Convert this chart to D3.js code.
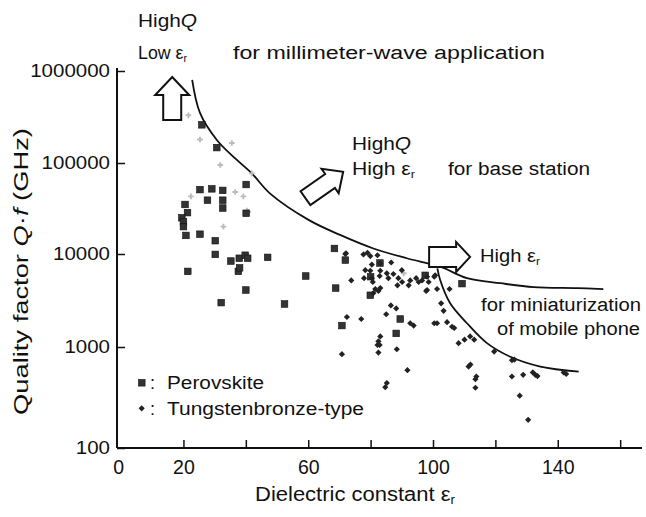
<!DOCTYPE html>
<html><head><meta charset="utf-8">
<script src="https://cdn.jsdelivr.net/npm/d3@7"></script>
<style>
body{margin:0;background:#fff}
text{font-family:"Liberation Sans",Arial,Helvetica,sans-serif;fill:#111}
</style>
</head><body>
<svg id="chart" width="646" height="517"></svg>
<script>
// ---- data (dielectric constant εr, Q·f in GHz) ----
const perovskite = [
 [25.9,260000],[30.7,147000],[40.1,58000],[25.3,51000],[29.1,52000],[32.6,50000],
 [27.7,39000],[32.6,39000],[32.6,32000],[40.1,28000],[20.5,35000],[21.3,28500],
 [19.5,25000],[20,22500],[20,20000],[20.8,16000],[25.3,16500],[30.2,14000],
 [30.2,9900],[35.2,8400],[37.9,9000],[39.8,9700],[40.6,9000],[47,9200],
 [37.6,6500],[38,7100],[21.4,6500],[40,4100],[32.1,3000],[52.4,2900],
 [68.4,11500],[71.9,8600],[59.2,5800],[68.8,4300],[79.9,3600],[89.5,2000],
 [70.8,1700],[88.2,1400],[97.5,5900],[109.3,4800],[83,8000],[80,5700]
];
const tungstenbronze = [
 [71.9,10000],[77.7,9900],[79,10300],[79.9,9500],[82.2,9700],[80.4,7700],
 [83.1,7900],[86.6,8100],[78.3,6700],[79.9,6600],[83.1,6600],[77.9,5500],
 [80.4,5500],[80.7,5000],[82.9,5800],[85.2,6200],[85.7,5500],[87.3,6100],
 [88.9,5500],[88.6,4600],[90.1,5000],[92.2,4600],[92.7,5200],[94.6,5500],
 [95.4,5000],[96.5,5200],[98.1,5700],[98.6,5000],[100.4,5700],[97.8,4000],
 [101.3,4200],[105.3,4200],[73.8,5200],[81.5,4200],[82.5,4000],[83.1,4300],
 [80.9,3800],[86.5,2800],[88.2,2600],[102.6,2950],[103.4,2450],[85,2250],
 [72.4,2100],[77,2000],[92.7,1800],[93.8,1700],[100.4,1800],[101.3,1800],
 [104.5,1850],[106.1,1650],[106.8,1600],[83.1,1300],[82.5,1150],[82.2,1050],
 [82.9,1050],[88.4,950],[70.8,850],[82.5,880],[98.1,4100],[108.2,1100],
 [110.1,1200],[111.9,1300],[113.2,1200],[119.6,900],[125.3,740],[126.1,750],
 [111.4,640],[112,670],[113.9,510],[113.6,480],[113.6,395],[91.8,590],
 [125.3,510],[128.9,530],[132,560],[132.8,530],[133.5,515],[141.9,560],
 [142.7,540],[127.8,330],[130.5,190],[85.2,440],[84.7,400],[100.7,5900],
 [72.1,10200],[90,6700]
];
const faintPoints = [
 [21.6,330000],[25.3,180000],[35.5,165000],[31.8,95000],[41.9,77000],[36.6,48000],
 [39.2,43000],[22.4,43000],[40.3,30000],[32.8,20000],[40.8,29000],[90.6,6200]
];
const boundaryHighQ = [
 [22.8,800000],[25.3,350000],[30.7,178000],[36.6,112000],[41.9,77000],[47.8,46000],
 [60.1,23700],[70.2,16200],[80.9,11500],[91.6,9000],[102.3,7300],[110.9,5500],
 [121.6,4850],[132.3,4400],[146.2,4300],[154.6,4200]
];
const boundaryMobile = [
 [101.4,7000],[102.3,5250],[105.5,2950],[110.9,1800],[117.3,1100],[124.8,800],
 [134.4,640],[146.7,570]
];
const xTickValues = [0,20,40,60,80,100,120,140,160];
const xTickLabels = [0,20,60,100,140];
const yTickValues = [100,1000,10000,100000,1000000];
const legendLabels = ["Perovskite","Tungstenbronze-type"];

// ---- scales ----
const x = d3.scaleLinear().domain([-1.3,167]).range([117,642]);
const y = d3.scaleLog().domain([100,1000,10000,100000,1000000]).range([448,347,254,163,71]);

const svg = d3.select("#chart");

// axes
const yAxis = d3.axisLeft(y).tickValues(yTickValues).tickSize(-8).tickSizeOuter(0)
  .tickPadding(7).tickFormat(d3.format("d"));
const gy = svg.append("g").attr("transform",`translate(${x(-1.3)},0)`).call(yAxis);
gy.selectAll("text").attr("font-size",17.5).attr("fill","#111")
  .attr("textLength",d=>String(d).length*11.4).attr("lengthAdjust","spacingAndGlyphs");
gy.select(".domain").attr("stroke","#111").attr("stroke-width",2).attr("d",`M0,${y(100)}V${y(1000000)-3}`);
gy.selectAll(".tick line").attr("stroke","#111").attr("stroke-width",1.5);

const xAxis = d3.axisBottom(x).tickValues(xTickValues).tickSize(-8).tickSizeOuter(0)
  .tickPadding(12).tickFormat(d=>xTickLabels.includes(d)?d:"");
const gx = svg.append("g").attr("transform",`translate(0,${y(100)})`).call(xAxis);
gx.selectAll("text").attr("font-size",19.5).attr("fill","#111");
gx.select(".domain").attr("stroke","#111").attr("stroke-width",2).attr("d",`M${x(-1.3)},0H642`);
gx.selectAll(".tick line").attr("stroke","#111").attr("stroke-width",1.5);
gx.selectAll(".tick").filter(d=>d===0).select("line").remove();
gx.selectAll(".tick").filter(d=>d===0).select("text").attr("x",-3);

// boundary curves
const line = d3.line().x(d=>x(d[0])).y(d=>y(d[1])).curve(d3.curveCatmullRom.alpha(0.5));
[boundaryHighQ,boundaryMobile].forEach(c=>{
  svg.append("path").datum(c).attr("d",line).attr("fill","none")
    .attr("stroke","#111").attr("stroke-width",1.8);
});

// faint points
svg.append("g").selectAll("path").data(faintPoints).join("path")
  .attr("transform",d=>`translate(${x(d[0])},${y(d[1])})`)
  .attr("d",d3.symbol(d3.symbolCross,18)).attr("fill","#bbb");

// perovskite squares
svg.append("g").selectAll("rect").data(perovskite).join("rect")
  .attr("x",d=>x(d[0])-3.3).attr("y",d=>y(d[1])-3.3).attr("width",6.6).attr("height",6.6)
  .attr("fill","#333").attr("stroke","#111").attr("stroke-width",0.6);
// tungstenbronze diamonds (rotated squares)
const diamond = d3.symbol(d3.symbolSquare,19);
svg.append("g").selectAll("path").data(tungstenbronze).join("path")
  .attr("transform",d=>`translate(${x(d[0])},${y(d[1])}) rotate(45)`)
  .attr("d",diamond).attr("fill","#222");

// hollow arrows (local shape pointing up, tip at origin)
function arrowPath(len,headW,headH,shaftW){
  return `M0,0L${headW/2},${headH}L${shaftW/2},${headH}L${shaftW/2},${len}L${-shaftW/2},${len}L${-shaftW/2},${headH}L${-headW/2},${headH}Z`;
}
const arrows = [
  {tip:[16.4,860000],rot:0,len:43,hw:34,hh:18,sw:18},
  {tip:[71.2,80000],rot:55,len:46,hw:30,hh:16,sw:17},
  {tip:[111.9,9300],rot:90,len:41,hw:30,hh:14,sw:20}
];
arrows.forEach(a=>{
  svg.append("path").attr("d",arrowPath(a.len,a.hw,a.hh,a.sw))
    .attr("transform",`translate(${x(a.tip[0])},${y(a.tip[1])}) rotate(${a.rot})`)
    .attr("fill","#fff").attr("stroke","#111").attr("stroke-width",2);
});

// texts
function addText(xp,yp,parts,size,width){
  const t = svg.append("text").attr("x",xp).attr("y",yp).attr("font-size",size);
  parts.forEach(p=>{
    const s = t.append("tspan").text(p.t);
    if(p.i) s.attr("font-style","italic");
    if(p.sub) s.attr("font-size",size*0.6).attr("dy",3);
  });
  if(width) t.attr("textLength",width).attr("lengthAdjust","spacingAndGlyphs");
  return t;
}
addText(138,27,[{t:"High"},{t:"Q",i:1}],18,59);
addText(138,59,[{t:"Low ε"},{t:"r",sub:1}],18,49);
addText(233,59,[{t:"for millimeter-wave application"}],18,312);
addText(352,150,[{t:"High"},{t:"Q",i:1}],18,59);
addText(352,175,[{t:"High ε"},{t:"r",sub:1}],18,63);
addText(448,175,[{t:"for base station"}],18,142);
addText(480,262,[{t:"High ε"},{t:"r",sub:1}],18,60);
addText(481,311,[{t:"for miniaturization"}],18,160);
addText(497,335,[{t:"of mobile phone"}],18,143);

// legend
svg.append("rect").attr("x",138.5).attr("y",379.5).attr("width",6.6).attr("height",6.6)
  .attr("fill","#333").attr("stroke","#111").attr("stroke-width",0.6);
svg.append("path").attr("transform","translate(141.7,408.3) rotate(45)").attr("d",diamond).attr("fill","#222");
addText(150,389,[{t:":"}],18);
addText(150,415,[{t:":"}],18);
addText(167,389,[{t:legendLabels[0]}],18,97);
addText(167,415,[{t:legendLabels[1]}],18,197);

// axis titles
addText(255,501,[{t:"Dielectric constant ε"},{t:"r",sub:1}],20,200);
const yl = addText(0,0,[{t:"Quality factor "},{t:"Q",i:1},{t:"·"},{t:"f",i:1},{t:" (GHz)"}],20,287);
yl.attr("transform","translate(28,415) rotate(-90)");
</script>
</body></html>
